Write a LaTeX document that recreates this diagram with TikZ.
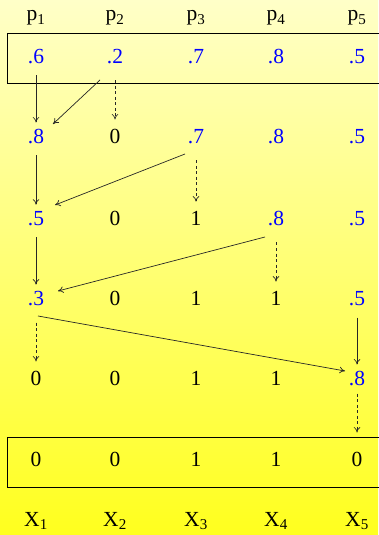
\documentclass[tikz,border=0pt]{standalone}
\usepackage{xcolor}
\usepackage{fontspec}
\setmainfont{Liberation Serif}
\usepackage{tikz}
\usetikzlibrary{arrows.meta}
\definecolor{paleyellow}{HTML}{FFFFC8}
\definecolor{deepyellow}{HTML}{FFFF1E}

\begin{document}
\begin{tikzpicture}[x=1pt, y=1pt,
  val/.style={anchor=base, inner sep=0pt, font=\fontsize{21.5}{26}\selectfont},
  bval/.style={val, text=blue},
  rowbox/.style={draw=black, line width=0.9pt},
  line/.style={draw=black!85, -{To[length=5.5pt,width=6.5pt]}, line width=0.7pt, shorten <=11pt, shorten >=7pt},
  dline/.style={line, dash pattern=on 3pt off 2.5pt, shorten <=16pt, shorten >=10pt},
  diag/.style={line, shorten <=0pt, shorten >=0pt}]

  \shade [top color=paleyellow, bottom color=deepyellow] (0,0) rectangle (378,535);
  \useasboundingbox (0,0) rectangle (378,535);

  % first and last rows are boxed
  \draw [rowbox] (7,452) rectangle (385,502);
  \draw [rowbox] (7,48) rectangle (385,98);

  \foreach \i/\x in {1/36,2/115,3/196,4/276,5/357} {
    \node [val] (p\i) at (\x,514) {p\textsubscript{\i}};
    \node [val] (x\i) at (\x,9) {X\textsubscript{\i}};
  }

  \node [bval] (r0c1) at (36,471) {.6};  \node [bval] (r0c2) at (115,471) {.2};
  \node [bval] (r0c3) at (196,471) {.7}; \node [bval] (r0c4) at (276,471) {.8};
  \node [bval] (r0c5) at (357,471) {.5};

  \node [bval] (r1c1) at (36,391) {.8};  \node [val] (r1c2) at (115,391) {0};
  \node [bval] (r1c3) at (196,391) {.7}; \node [bval] (r1c4) at (276,391) {.8};
  \node [bval] (r1c5) at (357,391) {.5};

  \node [bval] (r2c1) at (36,309) {.5};  \node [val] (r2c2) at (115,309) {0};
  \node [val] (r2c3) at (196,309) {1};   \node [bval] (r2c4) at (276,309) {.8};
  \node [bval] (r2c5) at (357,309) {.5};

  \node [bval] (r3c1) at (36,229) {.3};  \node [val] (r3c2) at (115,229) {0};
  \node [val] (r3c3) at (196,229) {1};   \node [val] (r3c4) at (276,229) {1};
  \node [bval] (r3c5) at (357,229) {.5};

  \node [val] (r4c1) at (36,149) {0};    \node [val] (r4c2) at (115,149) {0};
  \node [val] (r4c3) at (196,149) {1};   \node [val] (r4c4) at (276,149) {1};
  \node [bval] (r4c5) at (357,149) {.8};

  \node [val] (r5c1) at (36,68) {0};     \node [val] (r5c2) at (115,68) {0};
  \node [val] (r5c3) at (196,68) {1};    \node [val] (r5c4) at (276,68) {1};
  \node [val] (r5c5) at (357,68) {0};

  \path [line] (r0c1) -- (r1c1);
  \path [diag] ([shift={(-15,-16)}]r0c2.base) -- ([shift={(17,20)}]r1c1.base);
  \path [dline] (r0c2) -- (r1c2);

  \path [line] (r1c1) -- (r2c1);
  \path [diag] ([shift={(-11,-10)}]r1c3.base) -- ([shift={(19,21)}]r2c1.base);
  \path [dline] (r1c3) -- (r2c3);

  \path [line] (r2c1) -- (r3c1);
  \path [diag] ([shift={(-11,-11)}]r2c4.base) -- ([shift={(22,15)}]r3c1.base);
  \path [dline] (r2c4) -- (r3c4);

  \path [diag] ([shift={(2,-10)}]r3c1.base) -- ([shift={(-12,15)}]r4c5.base);
  \path [dline] (r3c1) -- (r4c1);
  \path [line] (r3c5) -- (r4c5);

  \path [dline, shorten <=7pt, shorten >=20pt] (r4c5) -- (r5c5);
\end{tikzpicture}
\end{document}
